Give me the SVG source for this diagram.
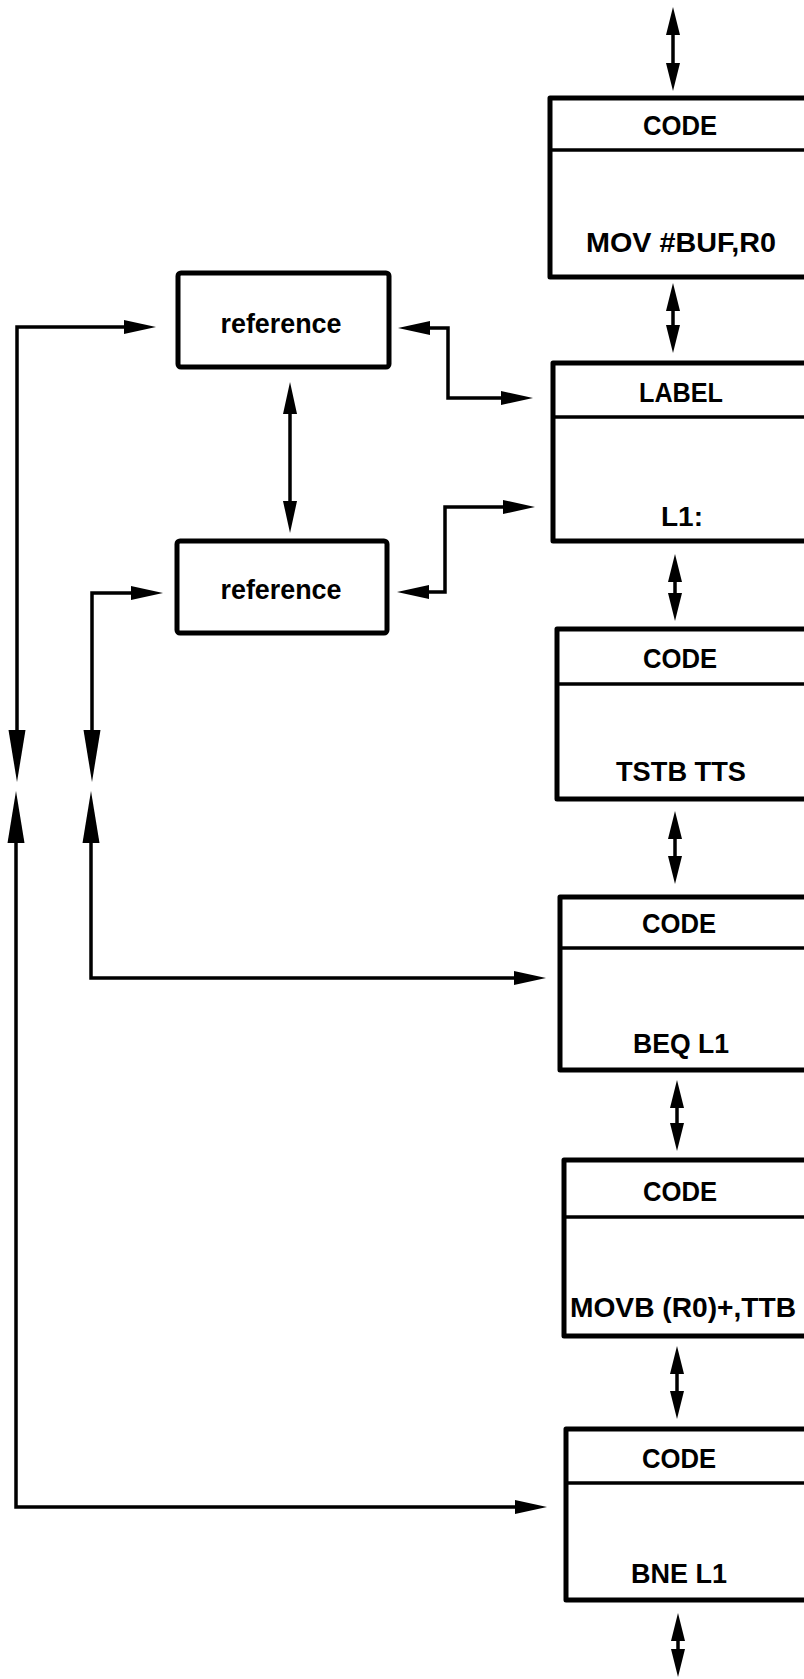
<svg xmlns="http://www.w3.org/2000/svg" width="804" height="1679" viewBox="0 0 804 1679">
<style>
  .box { fill: none; stroke: #000; stroke-width: 5; stroke-linejoin: round; }
  .hdr { fill: none; stroke: #000; stroke-width: 3.5; }
  .ln { fill: none; stroke: #000; stroke-width: 3.5; stroke-linejoin: miter; }
  .t { font-family: "Liberation Sans", Arial, sans-serif; font-weight: bold; font-size: 28px; fill: #000; text-anchor: middle; }
</style>
<defs>
  <marker id="a" markerUnits="userSpaceOnUse" markerWidth="40" markerHeight="20" viewBox="0 -10 40 20" refX="2" refY="0" orient="auto-start-reverse" overflow="visible">
    <path d="M0,-7 L32,0 L0,7 Z" fill="#000"/>
  </marker>
  <marker id="b" markerUnits="userSpaceOnUse" markerWidth="40" markerHeight="20" viewBox="0 -10 40 20" refX="2" refY="0" orient="auto-start-reverse" overflow="visible">
    <path d="M0,-7 L28,0 L0,7 Z" fill="#000"/>
  </marker>
  <marker id="c" markerUnits="userSpaceOnUse" markerWidth="60" markerHeight="20" viewBox="0 -10 60 20" refX="2" refY="0" orient="auto-start-reverse" overflow="visible">
    <path d="M0,-8.5 L52,0 L0,8.5 Z" fill="#000"/>
  </marker>
</defs>
<rect x="0" y="0" width="804" height="1679" fill="#fff"/>

<g id="connectors">
  <path class="ln" d="M673,33 L673,65" marker-start="url(#b)" marker-end="url(#b)"/>
  <path class="ln" d="M673,309 L673,327" marker-start="url(#b)" marker-end="url(#b)"/>
  <path class="ln" d="M675,580 L675,595" marker-start="url(#b)" marker-end="url(#b)"/>
  <path class="ln" d="M675,837 L675,858" marker-start="url(#b)" marker-end="url(#b)"/>
  <path class="ln" d="M677,1106 L677,1125" marker-start="url(#b)" marker-end="url(#b)"/>
  <path class="ln" d="M677,1372 L677,1393" marker-start="url(#b)" marker-end="url(#b)"/>
  <path class="ln" d="M678,1639 L678,1651" marker-start="url(#b)" marker-end="url(#b)"/>

  <path class="ln" d="M126,327 L17,327 L17,732" marker-start="url(#a)" marker-end="url(#c)"/>
  <path class="ln" d="M517,1507 L16,1507 L16,841" marker-start="url(#a)" marker-end="url(#c)"/>
  <path class="ln" d="M133,593 L92,593 L92,732" marker-start="url(#a)" marker-end="url(#c)"/>
  <path class="ln" d="M516,978 L91,978 L91,841" marker-start="url(#a)" marker-end="url(#c)"/>

  <path class="ln" d="M428,328 L448,328 L448,398 L503,398" marker-start="url(#a)" marker-end="url(#a)"/>
  <path class="ln" d="M427,592 L445,592 L445,507 L505,507" marker-start="url(#a)" marker-end="url(#a)"/>
  <path class="ln" d="M290,412 L290,503" marker-start="url(#a)" marker-end="url(#a)"/>
</g>

<g id="ref1">
  <rect class="box" x="178" y="273" width="211" height="94" rx="3"/>
  <text class="t" x="281" y="333" textLength="121" lengthAdjust="spacingAndGlyphs">reference</text>
</g>
<g id="ref2">
  <rect class="box" x="177" y="541" width="210" height="92" rx="3"/>
  <text class="t" x="281" y="599" textLength="121" lengthAdjust="spacingAndGlyphs">reference</text>
</g>

<g id="box1">
  <path class="box" d="M815,98 L550,98 L550,277 L815,277"/>
  <path class="hdr" d="M550,150 L810,150"/>
  <text class="t" x="680" y="135" textLength="74" lengthAdjust="spacingAndGlyphs">CODE</text>
  <text class="t" x="681" y="252" textLength="190" lengthAdjust="spacingAndGlyphs">MOV #BUF,R0</text>
</g>
<g id="box2">
  <path class="box" d="M815,363 L553,363 L553,541 L815,541"/>
  <path class="hdr" d="M553,417 L810,417"/>
  <text class="t" x="681" y="402" textLength="84" lengthAdjust="spacingAndGlyphs">LABEL</text>
  <text class="t" x="682" y="526">L1:</text>
</g>
<g id="box3">
  <path class="box" d="M815,629 L557,629 L557,799 L815,799"/>
  <path class="hdr" d="M557,684 L810,684"/>
  <text class="t" x="680" y="668" textLength="74" lengthAdjust="spacingAndGlyphs">CODE</text>
  <text class="t" x="681" y="781" textLength="130" lengthAdjust="spacingAndGlyphs">TSTB TTS</text>
</g>
<g id="box4">
  <path class="box" d="M815,897 L560,897 L560,1070 L815,1070"/>
  <path class="hdr" d="M560,948 L810,948"/>
  <text class="t" x="679" y="933" textLength="74" lengthAdjust="spacingAndGlyphs">CODE</text>
  <text class="t" x="681" y="1053" textLength="96" lengthAdjust="spacingAndGlyphs">BEQ L1</text>
</g>
<g id="box5">
  <path class="box" d="M815,1160 L564,1160 L564,1336 L815,1336"/>
  <path class="hdr" d="M564,1217 L810,1217"/>
  <text class="t" x="680" y="1201" textLength="74" lengthAdjust="spacingAndGlyphs">CODE</text>
  <text class="t" x="683" y="1317" textLength="226" lengthAdjust="spacingAndGlyphs">MOVB (R0)+,TTB</text>
</g>
<g id="box6">
  <path class="box" d="M815,1429 L566,1429 L566,1600 L815,1600"/>
  <path class="hdr" d="M566,1483 L810,1483"/>
  <text class="t" x="679" y="1468" textLength="74" lengthAdjust="spacingAndGlyphs">CODE</text>
  <text class="t" x="679" y="1583" textLength="96" lengthAdjust="spacingAndGlyphs">BNE L1</text>
</g>
</svg>
